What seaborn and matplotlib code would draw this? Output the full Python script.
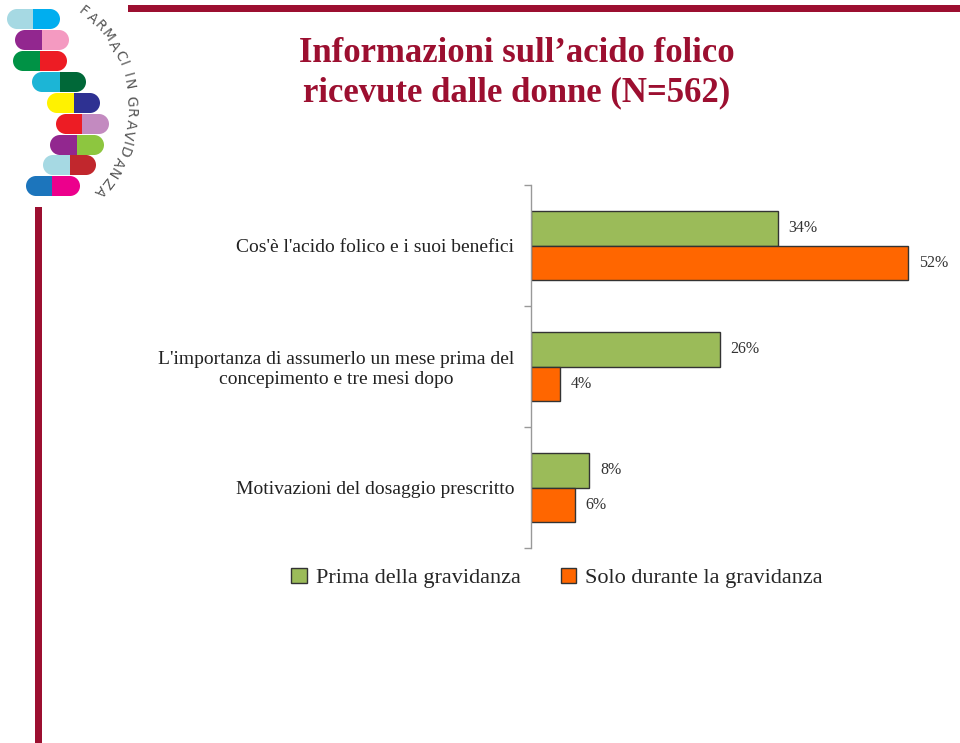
import matplotlib
matplotlib.use('Agg')
import matplotlib.pyplot as plt
import seaborn as sns
import pandas as pd
import numpy as np
from matplotlib.patches import Rectangle, Circle, Patch

# ---------------- data ----------------
categories = ["Cos'è l'acido folico e i suoi benefici",
              "L'importanza di assumerlo un mese prima del\nconcepimento e tre mesi dopo",
              "Motivazioni del dosaggio prescritto"]
series = ["Prima della gravidanza", "Solo durante la gravidanza"]
prima = [34, 26, 8]
solo = [52, 4, 6]
colors = ["#9BBB59", "#FF6600"]
title_lines = ["Informazioni sull\u2019acido folico", "ricevute dalle donne (N=562)"]

df = pd.DataFrame({
    "cat": categories * 2,
    "serie": [series[0]] * len(categories) + [series[1]] * len(categories),
    "val": prima + solo,
})

sns.set_theme(style="white")
plt.rcParams['font.family'] = ['Liberation Serif', 'DejaVu Serif']

W, H = 960, 743
fig = plt.figure(figsize=(W / 100, H / 100), dpi=100)

# ---------------- decorations (pixel overlay) ----------------
deco = fig.add_axes([0, 0, 1, 1], zorder=0)
deco.set_xlim(0, W)
deco.set_ylim(H, 0)
deco.axis('off')
red = "#9C0F30"
deco.add_patch(Rectangle((128, 5), W - 128, 7, color=red, lw=0))
deco.add_patch(Rectangle((35, 207), 7, H - 207, color=red, lw=0))

pills = [
    (7, 33, 60, 9, 29, "#A6D9E3", "#00AEEF"),
    (15, 42, 69, 30, 50, "#92278F", "#F49AC1"),
    (13, 40, 67, 51, 71, "#009245", "#ED1C24"),
    (32, 60, 86, 72, 92, "#1CB5D6", "#006838"),
    (47, 74, 100, 93, 113, "#FFF200", "#2E3192"),
    (56, 82, 109, 114, 134, "#ED1C24", "#C38AC0"),
    (50, 77, 104, 135, 155, "#92278F", "#8DC63F"),
    (43, 70, 96, 155, 175, "#A6D9E3", "#C1272D"),
    (26, 52, 80, 176, 196, "#1C75BC", "#EC008C"),
]
for xl, xm, xr, yt, yb, cl, cr in pills:
    h = yb - yt
    r = h / 2
    yc = yt + r
    deco.add_patch(Circle((xl + r, yc), r, color=cl, lw=0))
    deco.add_patch(Rectangle((xl + r, yt), xm - xl - r, h, color=cl, lw=0))
    deco.add_patch(Rectangle((xm, yt), xr - r - xm, h, color=cr, lw=0))
    deco.add_patch(Circle((xr - r, yc), r, color=cr, lw=0))

logo_text = "FARMACI IN GRAVIDANZA"
char_w = {'M': 1.3, 'I': 0.55, ' ': 0.55, 'N': 1.1, 'A': 1.05, 'G': 1.1,
          'D': 1.1, 'V': 1.05, 'R': 1.0, 'F': 0.9, 'C': 1.05, 'Z': 1.0}
wts = np.array([char_w.get(c, 1.0) for c in logo_text])
cum = np.cumsum(wts) - wts / 2
cum = cum / cum[-1]
cx, cy, rad = 8.0, 108.0, 123.0
a0, a1 = -52, 42
angs = a0 + (a1 - a0) * (cum - cum[0]) / (1 - cum[0])
for ch, a in zip(logo_text, angs):
    t = np.deg2rad(a)
    px = cx + rad * np.cos(t)
    py = cy + rad * np.sin(t)
    rot = -(90 + a)
    deco.text(px, py, ch, rotation=rot, ha='center', va='center',
              fontsize=10, color='#555555', family='DejaVu Sans',
              rotation_mode='anchor')

# ---------------- title ----------------
fig.text(517 / W, 1 - 53 / H, title_lines[0], ha='center', va='center',
         fontsize=25, fontweight='bold', color=red)
fig.text(517 / W, 1 - 93 / H, title_lines[1], ha='center', va='center',
         fontsize=25, fontweight='bold', color=red)

# ---------------- chart ----------------
px_per_pct = 7.25
ax = fig.add_axes([531 / W, 1 - 548 / H, (W - 531) / W, 363 / H], zorder=2)
ax.patch.set_alpha(0)
sns.barplot(data=df, y="cat", x="val", hue="serie", order=categories,
            hue_order=series, palette=colors, orient='h', width=0.57,
            edgecolor='#333333', linewidth=1, ax=ax, legend=False,
            saturation=1)
ax.set_xlim(0, (W - 531) / px_per_pct)
ax.set_ylim(2.5, -0.5)
ax.set_xlabel("")
ax.set_ylabel("")
ax.set_xticks([])

for cont in ax.containers:
    vals = [b.get_width() for b in cont]
    ax.bar_label(cont, labels=[f"{v:.0f}%" for v in vals], padding=8,
                 fontsize=11.5, color='#333333')

for s in ['top', 'right', 'bottom']:
    ax.spines[s].set_visible(False)
ax.spines['left'].set_color('#999999')
ax.spines['left'].set_linewidth(1)

ax.set_yticks(range(len(categories)))
ax.set_yticklabels(categories, fontsize=14, color='#222222')
for t in ax.get_yticklabels():
    t.set_multialignment('center')
ax.tick_params(axis='y', which='major', length=0, pad=12)
ax.set_yticks(np.arange(-0.5, len(categories), 1.0), minor=True)
ax.tick_params(axis='y', which='minor', length=5, width=1, color='#999999',
               direction='out', left=True)

handles = [Patch(facecolor=c, edgecolor='#333333', lw=1) for c in colors]
fig.legend(handles, series, loc='center', bbox_to_anchor=(557 / W, 1 - 578 / H),
           ncol=2, frameon=False, fontsize=16, handlelength=0.7,
           handleheight=0.7, handletextpad=0.4, columnspacing=1.8)

fig.savefig("out.png", dpi=100)
